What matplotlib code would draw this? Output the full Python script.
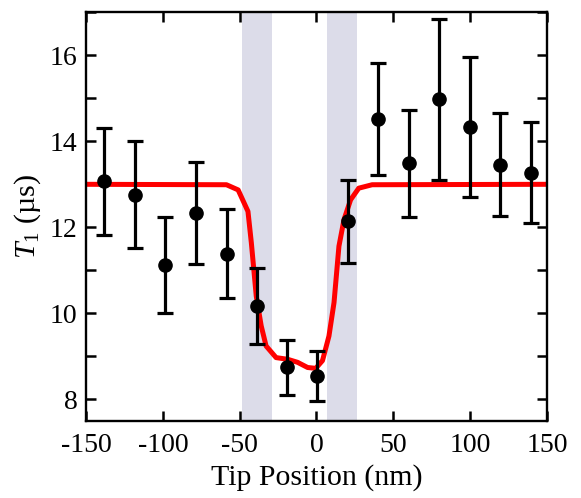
import matplotlib
matplotlib.use('Agg')
import matplotlib.pyplot as plt
from matplotlib.ticker import MultipleLocator

# measured points
pos = [-138, -118, -98.5, -78.5, -58.5, -39, -19.5, 0.5, 20.5, 40, 60, 80, 100, 119.5, 139.5]
t1 = [13.07, 12.76, 11.13, 12.33, 11.39, 10.17, 8.74, 8.55, 12.14, 14.52, 13.49, 14.98, 14.33, 13.46, 13.27]
t1_err = [1.25, 1.24, 1.12, 1.19, 1.04, 0.88, 0.65, 0.58, 0.96, 1.30, 1.24, 1.87, 1.62, 1.20, 1.18]

# model curve
fit_x = [-150, -58.6, -51, -44.6, -42.4, -39.2, -36, -32.8, -26.3, -18.7, -12.3, -5.8, -0.5,
         3.9, 8.1, 11.4, 14.6, 17.9, 22.2, 27.5, 36.2, 150]
fit_y = [13.0, 12.99, 12.87, 12.37, 11.64, 10.40, 9.71, 9.24, 8.97, 8.93, 8.86, 8.74, 8.72,
         8.90, 9.47, 10.25, 11.56, 12.18, 12.64, 12.91, 12.99, 13.0]

# shaded regions
bands = [(-48.4, -28.9), (7.1, 26.5)]

plt.rcParams['font.family'] = 'Liberation Serif'
plt.rcParams['axes.unicode_minus'] = False
plt.rcParams['mathtext.fontset'] = 'custom'
plt.rcParams['mathtext.rm'] = 'Liberation Serif'
plt.rcParams['mathtext.it'] = 'Liberation Serif:italic'

fig = plt.figure(figsize=(5.81, 4.98), dpi=100)
ax = fig.add_axes([0.148, 0.155, 0.7935, 0.8203])

for b in bands:
    ax.axvspan(b[0], b[1], color='#dcdce9', lw=0, zorder=0)

ax.plot(fit_x, fit_y, color='#ff0000', lw=3.6, zorder=2)
ax.errorbar(pos, t1, yerr=t1_err, fmt='o', color='black', ms=9.5, elinewidth=2.3,
            capsize=5.5, capthick=2.3, zorder=3)

ax.set_xlim(-150, 150)
ax.set_ylim(7.5, 17)
ax.xaxis.set_major_locator(MultipleLocator(50))
ax.yaxis.set_major_locator(MultipleLocator(2))
ax.yaxis.set_minor_locator(MultipleLocator(1))
ax.tick_params(which='both', direction='in', top=True, right=True, width=1.8, length=7,
               labelsize=20)
ax.tick_params(axis='x', pad=9)
ax.tick_params(axis='y', pad=6)
ax.tick_params(axis='x', which='minor', top=False, bottom=False)
for s in ax.spines.values():
    s.set_linewidth(1.7)

ax.set_xlabel('Tip Position (nm)', fontsize=21.5, labelpad=4)
ax.set_ylabel(r'$T_1$ (µs)', fontsize=21.5, labelpad=5)

fig.savefig('out.png', dpi=100)
